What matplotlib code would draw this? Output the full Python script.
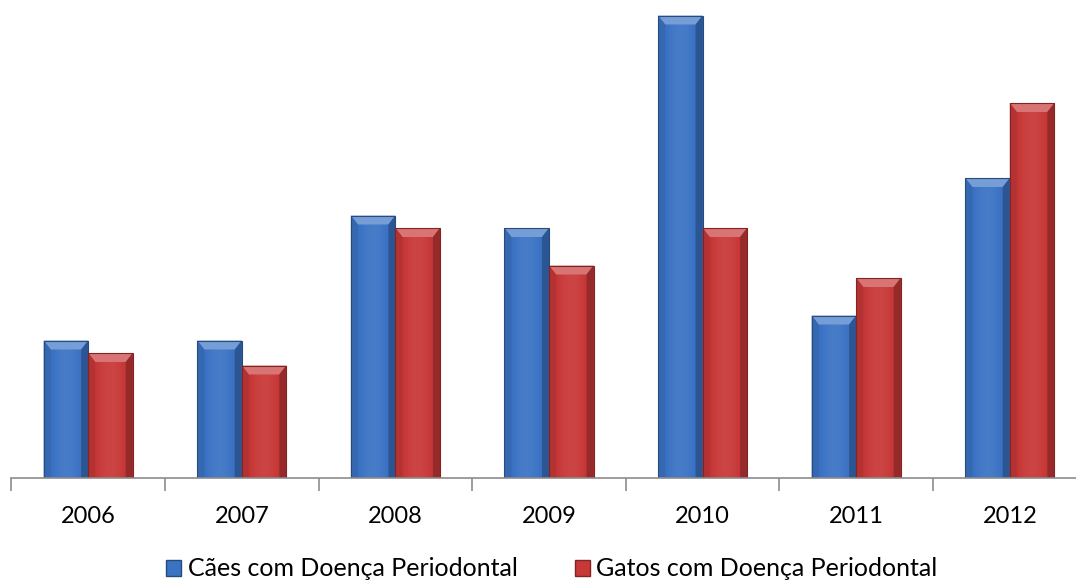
import matplotlib.pyplot as plt
import matplotlib.colors as mcolors
from matplotlib.patches import Polygon, Rectangle
import numpy as np

anos = ["2006", "2007", "2008", "2009", "2010", "2011", "2012"]
caes = [11, 11, 21, 20, 37, 13, 24]
gatos = [10, 9, 20, 17, 20, 16, 30]

serie_caes = "Cães com Doença Periodontal"
serie_gatos = "Gatos com Doença Periodontal"
cor_caes = "#3b73c4"
cor_gatos = "#c83838"

plt.rcParams["font.family"] = ["Lato", "DejaVu Sans"]

W, H = 1076, 581
fig = plt.figure(figsize=(W / 100, H / 100), dpi=100)
base_px = 478
unit_px = 12.5
cat_px = 153.6
ax = fig.add_axes([11.4 / W, (H - base_px) / H, (W - 11.4) / W, base_px / H])

largura = 0.29


def tom(cor, f):
    r, g, b = mcolors.to_rgb(cor)
    if f >= 0:
        return (r + (1 - r) * f, g + (1 - g) * f, b + (1 - b) * f)
    return (r * (1 + f), g * (1 + f), b * (1 + f))


def barra(x0, valor, cor):
    x1 = x0 + largura
    bx = 7 / cat_px
    by = 9 / unit_px
    # gradiente horizontal do corpo da barra
    t = np.linspace(0, 1, 64)
    perfil = 0.16 * np.sin(np.pi * t) - 0.1
    img = np.array([tom(cor, f) for f in perfil])[None, :, :]
    im = ax.imshow(img, extent=(x0, x1, 0, valor), aspect="auto",
                   interpolation="bilinear", zorder=2)
    ret = Rectangle((x0, 0), largura, valor, facecolor="none",
                    edgecolor=tom(cor, -0.35), linewidth=0.8, zorder=4)
    ax.add_patch(ret)
    im.set_clip_path(ret)
    # chanfro no topo e nas laterais
    ax.add_patch(Polygon([(x0, valor), (x1, valor), (x1 - bx, valor - by),
                          (x0 + bx, valor - by)], closed=True,
                         facecolor=tom(cor, 0.3), edgecolor="none", zorder=3))
    ax.add_patch(Polygon([(x0, 0), (x0, valor), (x0 + bx, valor - by),
                          (x0 + bx, 0)], closed=True,
                         facecolor=tom(cor, -0.1), edgecolor="none", zorder=3))
    ax.add_patch(Polygon([(x1, 0), (x1, valor), (x1 - bx, valor - by),
                          (x1 - bx, 0)], closed=True,
                         facecolor=tom(cor, -0.25), edgecolor="none", zorder=3))


for i in range(len(anos)):
    barra(i - largura, caes[i], cor_caes)
    barra(i, gatos[i], cor_gatos)

for lado in ["top", "right", "left"]:
    ax.spines[lado].set_visible(False)
ax.spines["bottom"].set_color("#8c8c8c")
ax.spines["bottom"].set_linewidth(1.2)
ax.spines["bottom"].set_zorder(5)
ax.set_yticks([])
ax.set_xticks(np.arange(len(anos)))
ax.set_xticklabels(anos, fontsize=17, color="#000000")
ax.tick_params(axis="x", length=0, pad=20)
ax.set_xticks(np.arange(len(anos)) - 0.5, minor=True)
ax.tick_params(axis="x", which="minor", length=9, width=1.2, color="#8c8c8c")

# limites por último: imshow e set_xticks mexem na escala
ax.set_xlim(-0.5, -0.5 + (W - 11.4) / cat_px)
ax.set_ylim(0, base_px / unit_px)

h1 = Rectangle((0, 0), 1, 1, facecolor=cor_caes, edgecolor=tom(cor_caes, -0.35))
h2 = Rectangle((0, 0), 1, 1, facecolor=cor_gatos, edgecolor=tom(cor_gatos, -0.35))
fig.legend([h1, h2], [serie_caes, serie_gatos], loc="center",
           bbox_to_anchor=(0.513, 12 / H), ncol=2, frameon=False,
           fontsize=18, handlelength=0.6, handleheight=0.6,
           handletextpad=0.25, columnspacing=2.3)

fig.savefig("out.png", dpi=100)
